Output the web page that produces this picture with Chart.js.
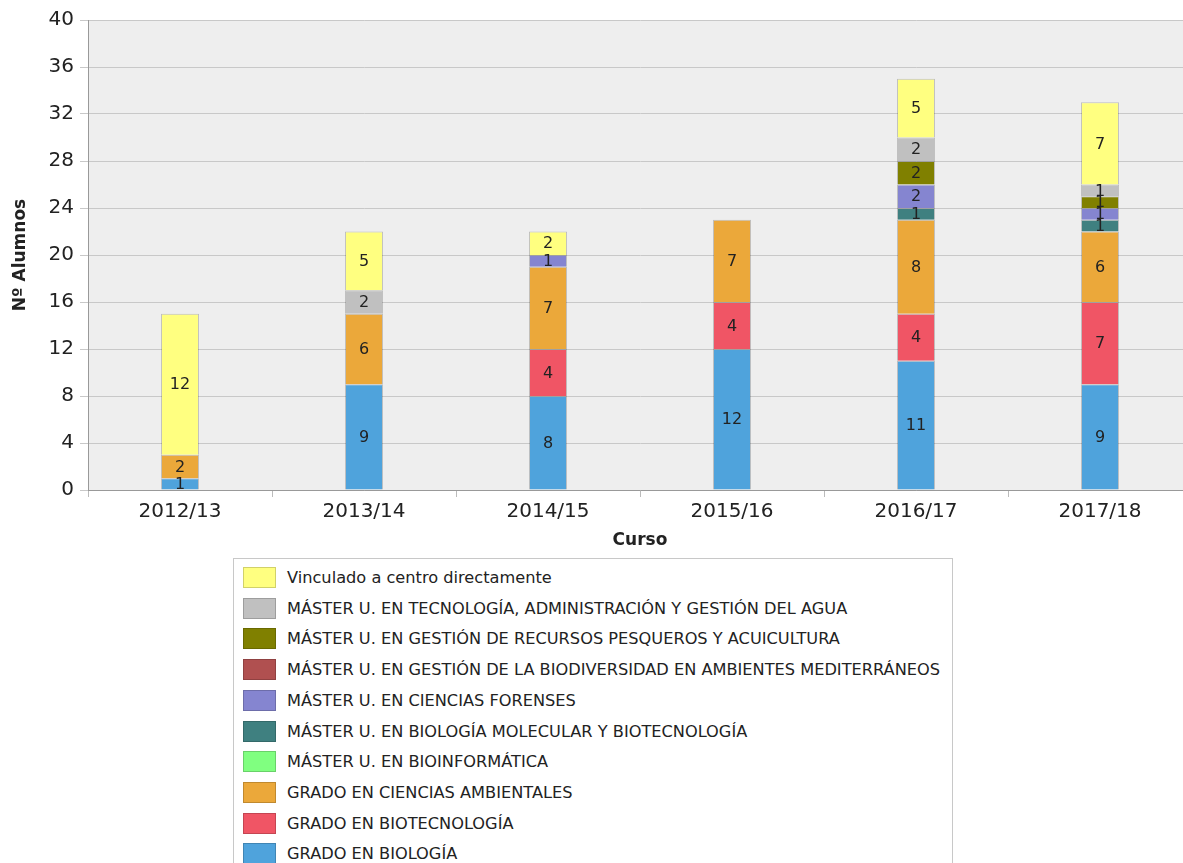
<!DOCTYPE html>
<html>
<head>
<meta charset="utf-8">
<script src="https://cdn.jsdelivr.net/npm/chart.js@4"></script>
<style>
  html, body { margin: 0; padding: 0; background: #fff; overflow: hidden; }
  #wrap { position: relative; width: 1195px; height: 555px; }
  #legend {
    position: absolute; left: 233px; top: 558px; width: 718px; height: 320px;
    border: 1px solid #c8c8c8; background: #fff;
    font-family: "DejaVu Sans", sans-serif; font-size: 16.2px; color: #222;
  }
  #legend .item { position: absolute; left: 9px; height: 22px; line-height: 22px; white-space: nowrap; }
  #legend .sw { display: inline-block; width: 33px; height: 21px; vertical-align: top; box-sizing: border-box; border: 1px solid rgba(0,0,0,0.18); margin-right: 11px; }
</style>
</head>
<body>
<div id="wrap"><canvas id="myChart" width="1195" height="555"></canvas></div>
<div id="legend"></div>
<script>
/* data */
const cursos = ['2012/13', '2013/14', '2014/15', '2015/16', '2016/17', '2017/18'];

const gradoBiologia = [1, 9, 8, 12, 11, 9];
const gradoBiotecnologia = [0, 0, 4, 4, 4, 7];
const gradoAmbientales = [2, 6, 7, 7, 8, 6];
const masterBioinformatica = [0, 0, 0, 0, 0, 0];
const masterMolecular = [0, 0, 0, 0, 1, 1];
const masterForenses = [0, 0, 1, 0, 2, 1];
const masterBiodiversidad = [0, 0, 0, 0, 0, 0];
const masterPesqueros = [0, 0, 0, 0, 2, 1];
const masterAgua = [0, 2, 0, 0, 2, 1];
const vinculado = [12, 5, 2, 0, 5, 7];

const yTicks = [0, 4, 8, 12, 16, 20, 24, 28, 32, 36, 40];

// bottom of stack first
const series = [
  { label: 'GRADO EN BIOLOGÍA', data: gradoBiologia, color: '#4fa3dc' },
  { label: 'GRADO EN BIOTECNOLOGÍA', data: gradoBiotecnologia, color: '#f05565' },
  { label: 'GRADO EN CIENCIAS AMBIENTALES', data: gradoAmbientales, color: '#eba83a' },
  { label: 'MÁSTER U. EN BIOINFORMÁTICA', data: masterBioinformatica, color: '#80ff80' },
  { label: 'MÁSTER U. EN BIOLOGÍA MOLECULAR Y BIOTECNOLOGÍA', data: masterMolecular, color: '#3f8080' },
  { label: 'MÁSTER U. EN CIENCIAS FORENSES', data: masterForenses, color: '#8585d0' },
  { label: 'MÁSTER U. EN GESTIÓN DE LA BIODIVERSIDAD EN AMBIENTES MEDITERRÁNEOS', data: masterBiodiversidad, color: '#b05050' },
  { label: 'MÁSTER U. EN GESTIÓN DE RECURSOS PESQUEROS Y ACUICULTURA', data: masterPesqueros, color: '#808000' },
  { label: 'MÁSTER U. EN TECNOLOGÍA, ADMINISTRACIÓN Y GESTIÓN DEL AGUA', data: masterAgua, color: '#c0c0c0' },
  { label: 'Vinculado a centro directamente', data: vinculado, color: '#ffff80' }
];

/* plot background */
const plotBg = {
  id: 'plotBg',
  beforeDraw: function (chart) {
    const a = chart.chartArea;
    const ctx = chart.ctx;
    ctx.save();
    ctx.fillStyle = '#eeeeee';
    ctx.fillRect(a.left, a.top, a.right - a.left, a.bottom - a.top);
    ctx.restore();
  }
};

/* numbers inside the segments */
const segLabels = {
  id: 'segLabels',
  afterDatasetsDraw: function (chart) {
    const ctx = chart.ctx;
    ctx.save();
    ctx.font = '16px "DejaVu Sans", sans-serif';
    ctx.fillStyle = '#222';
    ctx.textAlign = 'center';
    ctx.textBaseline = 'middle';
    chart.data.datasets.forEach(function (ds, i) {
      chart.getDatasetMeta(i).data.forEach(function (bar, j) {
        const v = ds.data[j];
        if (!v) return;
        ctx.fillText(String(v), bar.x, (bar.y + bar.base) / 2 + 1);
      });
    });
    ctx.restore();
  }
};

const ctx = document.getElementById('myChart').getContext('2d');

const chart = new Chart(ctx, {
  type: 'bar',
  data: {
    labels: cursos,
    datasets: series.map(function (s) {
      return {
        label: s.label,
        data: s.data,
        backgroundColor: s.color,
        borderColor: 'rgba(0,0,0,0.2)',
        borderWidth: 1,
        categoryPercentage: 1,
        barPercentage: 0.207
      };
    })
  },
  options: {
    responsive: false,
    animation: false,
    layout: { padding: { top: 20, right: 3, left: 0, bottom: 4 } },
    plugins: {
      legend: { display: false },
      tooltip: { enabled: false }
    },
    scales: {
      x: {
        stacked: true,
        grid: { drawOnChartArea: false, drawTicks: true, tickLength: 7, color: '#bbbbbb', offset: true },
        border: { color: '#999999' },
        ticks: { color: '#222', font: { family: 'DejaVu Sans', size: 20 }, padding: 3 },
        title: { display: true, text: 'Curso', color: '#222', font: { family: 'DejaVu Sans', size: 17, weight: 'bold' }, padding: { top: 2, bottom: 0 } },
        afterFit: function (s) { s.height = 61; }
      },
      y: {
        stacked: true,
        min: 0,
        max: 40,
        afterBuildTicks: function (s) { s.ticks = yTicks.map(function (v) { return { value: v }; }); },
        grid: { color: '#c8c8c8', tickLength: 8 },
        border: { color: '#999999' },
        ticks: { color: '#222', font: { family: 'DejaVu Sans', size: 20 }, padding: 6 },
        title: { display: true, text: 'Nº Alumnos', color: '#222', font: { family: 'DejaVu Sans', size: 17, weight: 'bold' }, padding: { top: 10, bottom: 0 } },
        afterFit: function (s) { s.width = 88; }
      }
    }
  },
  plugins: [plotBg, segLabels]
});

/* legend, top to bottom = top of stack first */
const legend = document.getElementById('legend');
series.slice().reverse().forEach(function (s, k) {
  const item = document.createElement('div');
  item.className = 'item';
  item.style.top = (8 + k * 30.7) + 'px';
  const sw = document.createElement('span');
  sw.className = 'sw';
  sw.style.background = s.color;
  item.appendChild(sw);
  item.appendChild(document.createTextNode(s.label));
  legend.appendChild(item);
});
</script>
</body>
</html>
